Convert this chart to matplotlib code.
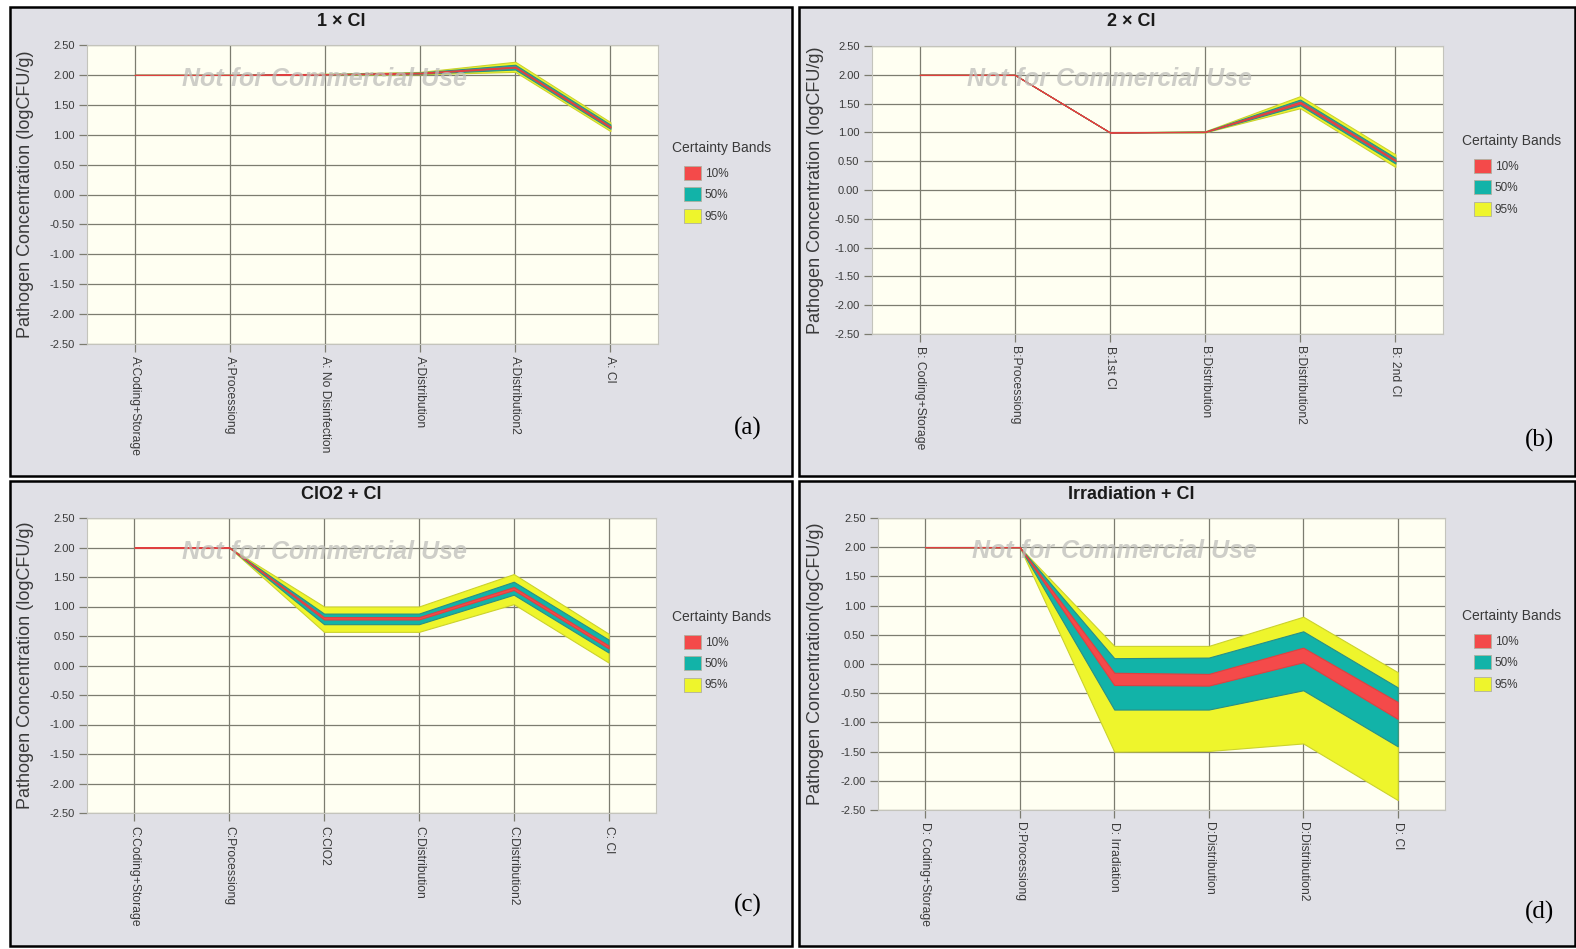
import matplotlib
matplotlib.use("Agg")
import matplotlib.pyplot as plt
from matplotlib.patches import Rectangle, Patch
import numpy as np

plt.rcParams['font.family'] = ['Liberation Sans', 'DejaVu Sans']

# ---------------- data ----------------
y_ticks = [2.5, 2.0, 1.5, 1.0, 0.5, 0.0, -0.5, -1.0, -1.5, -2.0, -2.5]

# (a) 1 x Cl
cats_a = ["A:Coding+Storage", "A:Processiong", "A: No Disinfection",
          "A:Distribution", "A:Distribution2", "A: Cl"]
a_p95_lo = [2.00, 2.00, 2.000, 2.010, 2.05, 1.06]
a_p95_hi = [2.00, 2.00, 2.020, 2.050, 2.22, 1.21]
a_p50_lo = [2.00, 2.00, 2.005, 2.020, 2.09, 1.10]
a_p50_hi = [2.00, 2.00, 2.015, 2.040, 2.17, 1.17]
a_p10_lo = [2.00, 2.00, 2.008, 2.025, 2.12, 1.12]
a_p10_hi = [2.00, 2.00, 2.012, 2.035, 2.14, 1.14]

# (b) 2 x Cl
cats_b = ["B: Coding+Storage", "B:Processiong", "B:1st Cl",
          "B:Distribution", "B:Distribution2", "B: 2nd Cl"]
b_p95_lo = [2.00, 2.00, 1.00, 1.000, 1.42, 0.40]
b_p95_hi = [2.00, 2.00, 1.00, 1.020, 1.63, 0.62]
b_p50_lo = [2.00, 2.00, 1.00, 1.005, 1.47, 0.46]
b_p50_hi = [2.00, 2.00, 1.00, 1.015, 1.57, 0.56]
b_p10_lo = [2.00, 2.00, 1.00, 1.008, 1.50, 0.50]
b_p10_hi = [2.00, 2.00, 1.00, 1.012, 1.535, 0.525]

# (c) ClO2 + Cl
cats_c = ["C:Coding+Storage", "C:Processiong", "C:ClO2",
          "C:Distribution", "C:Distribution2", "C: Cl"]
c_p95_lo = [2.00, 2.00, 0.57, 0.57, 1.04, 0.05]
c_p95_hi = [2.00, 2.00, 1.00, 1.00, 1.55, 0.54]
c_p50_lo = [2.00, 2.00, 0.70, 0.70, 1.20, 0.22]
c_p50_hi = [2.00, 2.00, 0.88, 0.88, 1.42, 0.44]
c_p10_lo = [2.00, 2.00, 0.78, 0.78, 1.28, 0.29]
c_p10_hi = [2.00, 2.00, 0.82, 0.82, 1.33, 0.34]

# (d) Irradiation + Cl
cats_d = ["D: Coding+Storage", "D:Processiong", "D: Irradiation",
          "D:Distribution", "D:Distribution2", "D: Cl"]
d_p95_lo = [2.00, 2.00, -1.50, -1.49, -1.36, -2.33]
d_p95_hi = [2.00, 2.00, 0.31, 0.31, 0.81, -0.14]
d_p50_lo = [2.00, 2.00, -0.78, -0.78, -0.45, -1.41]
d_p50_hi = [2.00, 2.00, 0.10, 0.11, 0.56, -0.40]
d_p10_lo = [2.00, 2.00, -0.36, -0.37, 0.03, -0.94]
d_p10_hi = [2.00, 2.00, -0.15, -0.17, 0.28, -0.65]

band_labels = ["10%", "50%", "95%"]
band_colors = ["#F44A4A", "#12B3A8", "#EEF52C"]

# ---------------- layout ----------------
W, H = 1576, 949
fig = plt.figure(figsize=(W / 100, H / 100), dpi=100, facecolor="white")


def fx(px):
    return px / W


def fy(py):
    return 1 - py / H


PANEL_BG = "#E0E0E6"
PLOT_BG = "#FFFFF2"
GRID = "#7C7C70"
TXT = "#3A3A3A"

# grey panel backgrounds with black frames, drawn underneath everything
frames = [(10, 7, 792, 476), (799, 7, 1575, 476),
          (10, 481, 792, 946), (799, 481, 1575, 946)]
bg_ax = fig.add_axes([0, 0, 1, 1], zorder=-10)
bg_ax.set_xlim(0, W)
bg_ax.set_ylim(H, 0)
bg_ax.axis("off")
for x0, y0, x1, y1 in frames:
    bg_ax.add_patch(Rectangle((x0, y0), x1 - x0, y1 - y0, facecolor=PANEL_BG,
                              edgecolor="black", linewidth=1.8))

panels = [
    dict(cats=cats_a, bands=[(a_p95_lo, a_p95_hi), (a_p50_lo, a_p50_hi), (a_p10_lo, a_p10_hi)],
         rect=(87, 45, 658, 344), title="1 × Cl", title_xy=(341, 21),
         legend_title_xy=(672, 148), legend_xy=(678, 160), tag="(a)", tag_xy=(748, 428),
         ylabel="Pathogen Concentration (logCFU/g)", ylabel_x=34),
    dict(cats=cats_b, bands=[(b_p95_lo, b_p95_hi), (b_p50_lo, b_p50_hi), (b_p10_lo, b_p10_hi)],
         rect=(872, 46, 1443, 334), title="2 × Cl", title_xy=(1131, 21),
         legend_title_xy=(1462, 141), legend_xy=(1468, 153), tag="(b)", tag_xy=(1540, 440),
         ylabel="Pathogen Concentration (logCFU/g)", ylabel_x=824),
    dict(cats=cats_c, bands=[(c_p95_lo, c_p95_hi), (c_p50_lo, c_p50_hi), (c_p10_lo, c_p10_hi)],
         rect=(87, 518, 656, 813), title="ClO2 + Cl", title_xy=(341, 495),
         legend_title_xy=(672, 617), legend_xy=(678, 629), tag="(c)", tag_xy=(748, 905),
         ylabel="Pathogen Concentration (logCFU/g)", ylabel_x=34),
    dict(cats=cats_d, bands=[(d_p95_lo, d_p95_hi), (d_p50_lo, d_p50_hi), (d_p10_lo, d_p10_hi)],
         rect=(878, 518, 1445, 810), title="Irradiation + Cl", title_xy=(1131, 495),
         legend_title_xy=(1462, 616), legend_xy=(1468, 628), tag="(d)", tag_xy=(1540, 912),
         ylabel="Pathogen Concentration(logCFU/g)", ylabel_x=824),
]

band_fill = ["#EEF52C", "#12B3A8", "#F44A4A"]          # 95%, 50%, 10%
band_edge = ["#CBD22E", "#2A8F86", "#E04040"]

for p in panels:
    l, t, r, b = p["rect"]
    ax = fig.add_axes([fx(l), fy(b), (r - l) / W, (b - t) / H])
    ax.set_facecolor(PLOT_BG)
    x = np.arange(len(p["cats"]))

    for (lo, hi), fc, ec in zip(p["bands"], band_fill, band_edge):
        ax.fill_between(x, lo, hi, facecolor=fc, edgecolor=ec, linewidth=0.8, zorder=3)

    ax.set_xlim(-0.5, len(x) - 0.5)
    ax.set_ylim(-2.5, 2.5)
    ax.set_xticks(x)
    ax.set_xticklabels(p["cats"], rotation=-90, ha="center", va="top",
                       fontsize=8.7, color=TXT)
    ax.set_yticks(y_ticks)
    ax.set_yticklabels([f"{v:.2f}" for v in y_ticks], fontsize=8, color=TXT)
    ax.tick_params(axis="both", direction="out", length=6, width=0.9, color=GRID, pad=3)
    ax.grid(True, color=GRID, linewidth=0.9, zorder=1)
    ax.set_axisbelow(True)
    for s in ax.spines.values():
        s.set_color("#C4C4BC")
        s.set_linewidth(0.8)

    ax.set_ylabel(p["ylabel"], fontsize=13, color=TXT)
    ax.yaxis.set_label_coords((p["ylabel_x"] - l) / (r - l), 0.5)

    ax.text(2.0, 1.93, "Not for Commercial Use", ha="center", va="center",
            fontsize=18, fontstyle="italic", fontweight="bold",
            color="#BEBEBA", alpha=0.75, zorder=5)

    handles = [Patch(facecolor=c, edgecolor="#B0B0A0", linewidth=0.6) for c in band_colors]
    leg = ax.legend(handles, band_labels, loc="upper left",
                    bbox_to_anchor=(fx(p["legend_xy"][0]), fy(p["legend_xy"][1])),
                    bbox_transform=fig.transFigure, frameon=False, fontsize=8.5,
                    handlelength=1.45, handleheight=1.45,
                    handletextpad=0.3, labelspacing=0.62, borderpad=0)
    for txt in leg.get_texts():
        txt.set_color(TXT)
    fig.text(fx(p["legend_title_xy"][0]), fy(p["legend_title_xy"][1]), "Certainty Bands",
             ha="left", va="center", fontsize=10, color=TXT)

    fig.text(fx(p["title_xy"][0]), fy(p["title_xy"][1]), p["title"], ha="center",
             va="center", fontsize=13, fontweight="bold", color="#1A1A1A")
    fig.text(fx(p["tag_xy"][0]), fy(p["tag_xy"][1]), p["tag"], ha="center",
             va="center", fontsize=18, family="Liberation Serif", color="black")

fig.savefig("out.png", dpi=100, facecolor="white")
